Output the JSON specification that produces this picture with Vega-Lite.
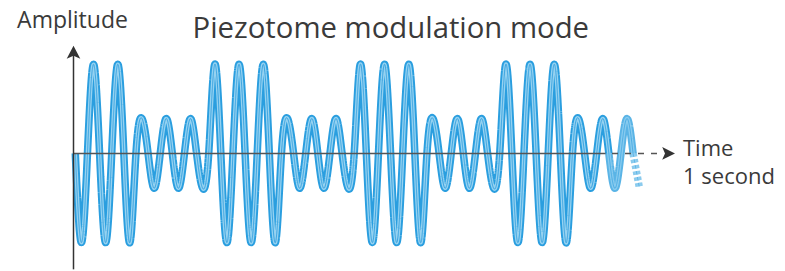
{
  "$schema": "https://vega.github.io/schema/vega-lite/v6.json",
  "width": 785,
  "height": 271,
  "autosize": {"type": "fit", "contains": "padding"},
  "padding": 0,
  "background": "#ffffff",
  "config": {"view": {"stroke": null}},
  "datasets": {
    "wave": [
      {"t": 1.8, "a": 0, "part": "solid"},
      {"t": 7.9, "a": -1, "part": "solid"},
      {"t": 13.96, "a": 0, "part": "solid"},
      {"t": 20.03, "a": 1, "part": "solid"},
      {"t": 26.09, "a": 0, "part": "solid"},
      {"t": 32.15, "a": -1, "part": "solid"},
      {"t": 38.21, "a": 0, "part": "solid"},
      {"t": 44.28, "a": 1, "part": "solid"},
      {"t": 50.34, "a": 0, "part": "solid"},
      {"t": 56.4, "a": -1, "part": "solid"},
      {"t": 62.46, "a": 0, "part": "solid"},
      {"t": 68.53, "a": 0.391, "part": "solid"},
      {"t": 74.59, "a": 0, "part": "solid"},
      {"t": 80.65, "a": -0.391, "part": "solid"},
      {"t": 86.71, "a": 0, "part": "solid"},
      {"t": 92.78, "a": 0.391, "part": "solid"},
      {"t": 98.84, "a": 0, "part": "solid"},
      {"t": 104.9, "a": -0.391, "part": "solid"},
      {"t": 110.96, "a": 0, "part": "solid"},
      {"t": 117.03, "a": 0.391, "part": "solid"},
      {"t": 123.09, "a": 0, "part": "solid"},
      {"t": 129.15, "a": -0.391, "part": "solid"},
      {"t": 135.21, "a": 0, "part": "solid"},
      {"t": 141.28, "a": 1, "part": "solid"},
      {"t": 147.34, "a": 0, "part": "solid"},
      {"t": 153.4, "a": -1, "part": "solid"},
      {"t": 159.46, "a": 0, "part": "solid"},
      {"t": 165.53, "a": 1, "part": "solid"},
      {"t": 171.59, "a": 0, "part": "solid"},
      {"t": 177.65, "a": -1, "part": "solid"},
      {"t": 183.71, "a": 0, "part": "solid"},
      {"t": 189.78, "a": 1, "part": "solid"},
      {"t": 195.84, "a": 0, "part": "solid"},
      {"t": 201.9, "a": -1, "part": "solid"},
      {"t": 207.96, "a": 0, "part": "solid"},
      {"t": 214.03, "a": 0.391, "part": "solid"},
      {"t": 220.09, "a": 0, "part": "solid"},
      {"t": 226.15, "a": -0.391, "part": "solid"},
      {"t": 232.21, "a": 0, "part": "solid"},
      {"t": 238.28, "a": 0.391, "part": "solid"},
      {"t": 244.34, "a": 0, "part": "solid"},
      {"t": 250.4, "a": -0.391, "part": "solid"},
      {"t": 256.46, "a": 0, "part": "solid"},
      {"t": 262.53, "a": 0.391, "part": "solid"},
      {"t": 268.59, "a": 0, "part": "solid"},
      {"t": 274.65, "a": -0.391, "part": "solid"},
      {"t": 280.71, "a": 0, "part": "solid"},
      {"t": 286.78, "a": 1, "part": "solid"},
      {"t": 292.84, "a": 0, "part": "solid"},
      {"t": 298.9, "a": -1, "part": "solid"},
      {"t": 304.96, "a": 0, "part": "solid"},
      {"t": 311.03, "a": 1, "part": "solid"},
      {"t": 317.09, "a": 0, "part": "solid"},
      {"t": 323.15, "a": -1, "part": "solid"},
      {"t": 329.21, "a": 0, "part": "solid"},
      {"t": 335.28, "a": 1, "part": "solid"},
      {"t": 341.34, "a": 0, "part": "solid"},
      {"t": 347.4, "a": -1, "part": "solid"},
      {"t": 353.46, "a": 0, "part": "solid"},
      {"t": 359.53, "a": 0.391, "part": "solid"},
      {"t": 365.59, "a": 0, "part": "solid"},
      {"t": 371.65, "a": -0.391, "part": "solid"},
      {"t": 377.71, "a": 0, "part": "solid"},
      {"t": 383.78, "a": 0.391, "part": "solid"},
      {"t": 389.84, "a": 0, "part": "solid"},
      {"t": 395.9, "a": -0.391, "part": "solid"},
      {"t": 401.96, "a": 0, "part": "solid"},
      {"t": 408.03, "a": 0.391, "part": "solid"},
      {"t": 414.09, "a": 0, "part": "solid"},
      {"t": 420.15, "a": -0.391, "part": "solid"},
      {"t": 426.21, "a": 0, "part": "solid"},
      {"t": 432.28, "a": 1, "part": "solid"},
      {"t": 438.34, "a": 0, "part": "solid"},
      {"t": 444.4, "a": -1, "part": "solid"},
      {"t": 450.46, "a": 0, "part": "solid"},
      {"t": 456.53, "a": 1, "part": "solid"},
      {"t": 462.59, "a": 0, "part": "solid"},
      {"t": 468.65, "a": -1, "part": "solid"},
      {"t": 474.71, "a": 0, "part": "solid"},
      {"t": 480.78, "a": 1, "part": "solid"},
      {"t": 486.84, "a": 0, "part": "solid"},
      {"t": 492.9, "a": -1, "part": "solid"},
      {"t": 498.96, "a": 0, "part": "solid"},
      {"t": 505.03, "a": 0.391, "part": "solid"},
      {"t": 511.09, "a": 0, "part": "solid"},
      {"t": 517.15, "a": -0.391, "part": "solid"},
      {"t": 523.21, "a": 0, "part": "solid"},
      {"t": 529.28, "a": 0.391, "part": "solid"},
      {"t": 535.34, "a": 0, "part": "solid"},
      {"t": 535.34, "a": 0, "part": "fade"},
      {"t": 541.4, "a": -0.391, "part": "fade"},
      {"t": 547.46, "a": 0, "part": "fade"},
      {"t": 553.53, "a": 0.391, "part": "fade"},
      {"t": 559.59, "a": 0, "part": "fade"},
      {"t": 559.59, "a": 0, "part": "dots"},
      {"t": 565.65, "a": -0.37, "part": "dots"}
    ]
  },
  "layer": [
    {
      "data": {"name": "wave"},
      "mark": {"type": "line", "interpolate": "natural", "color": "#2a9edf", "strokeWidth": 7.5, "strokeCap": "butt", "strokeJoin": "round"},
      "encoding": {
        "x": {"field": "t", "type": "quantitative", "scale": {"domain": [-73.5, 711.5], "nice": false, "zero": false}, "axis": null},
        "y": {"field": "a", "type": "quantitative", "scale": {"domain": [-1.3073, 1.7207], "nice": false, "zero": false}, "axis": null},
        "order": {"field": "t", "type": "quantitative"},
        "opacity": {"field": "part", "type": "nominal", "scale": {"domain": ["solid", "fade", "dots"], "range": [1, 0.55, 0.42]}, "legend": null},
        "strokeDash": {"field": "part", "type": "nominal", "scale": {"domain": ["solid", "fade", "dots"], "range": [[1, 0], [1, 0], [3.5, 2.5]]}, "legend": null}
      }
    },
    {
      "data": {"name": "wave"},
      "mark": {"type": "line", "interpolate": "natural", "color": "#95d2f1", "strokeWidth": 3.6, "strokeCap": "butt", "strokeJoin": "round"},
      "encoding": {
        "x": {"field": "t", "type": "quantitative"},
        "y": {"field": "a", "type": "quantitative"},
        "order": {"field": "t", "type": "quantitative"},
        "opacity": {"field": "part", "type": "nominal", "legend": null},
        "strokeDash": {"field": "part", "type": "nominal", "legend": null}
      }
    },
    {
      "data": {"name": "wave"},
      "mark": {"type": "line", "interpolate": "natural", "color": "#3aa3e0", "strokeWidth": 1, "strokeCap": "butt", "strokeJoin": "round"},
      "encoding": {
        "x": {"field": "t", "type": "quantitative"},
        "y": {"field": "a", "type": "quantitative"},
        "order": {"field": "t", "type": "quantitative"},
        "opacity": {"field": "part", "type": "nominal", "legend": null},
        "strokeDash": {"field": "part", "type": "nominal", "legend": null}
      }
    },
    {
      "data": {"values": [{}]},
      "mark": {"type": "rule", "color": "#555555", "strokeWidth": 1.5},
      "encoding": {
        "x": {"datum": 0, "type": "quantitative"},
        "x2": {"datum": 532},
        "y": {"datum": 0, "type": "quantitative"}
      }
    },
    {
      "data": {"values": [{}]},
      "mark": {"type": "rule", "color": "#555555", "strokeWidth": 1.5, "strokeDash": [6, 7]},
      "encoding": {
        "x": {"datum": 538.5, "type": "quantitative"},
        "x2": {"datum": 590},
        "y": {"datum": 0, "type": "quantitative"}
      }
    },
    {
      "data": {"values": [{}]},
      "mark": {"type": "point", "filled": true, "color": "#333333", "opacity": 1, "size": 256, "shape": "M1,0 L-0.6,0.8 L-0.25,0 L-0.6,-0.8 Z", "strokeWidth": 0},
      "encoding": {
        "x": {"datum": 593.5, "type": "quantitative"},
        "y": {"datum": 0, "type": "quantitative"}
      }
    },
    {
      "data": {"values": [{}]},
      "mark": {"type": "rule", "color": "#333333", "strokeWidth": 1.5},
      "encoding": {
        "x": {"datum": 0, "type": "quantitative"},
        "y": {"datum": -1.3, "type": "quantitative"},
        "y2": {"datum": 1.106}
      }
    },
    {
      "data": {"values": [{}]},
      "mark": {"type": "point", "filled": true, "color": "#333333", "opacity": 1, "size": 256, "shape": "M0,-1 L0.85,0.6 L0,0.25 L-0.85,0.6 Z", "strokeWidth": 0},
      "encoding": {
        "x": {"datum": 0, "type": "quantitative"},
        "y": {"datum": 1.117, "type": "quantitative"}
      }
    },
    {
      "data": {"values": [{}]},
      "mark": {"type": "text", "font": "Open Sans", "fontSize": 29.3, "align": "center", "baseline": "alphabetic", "color": "#3a3a3a"},
      "encoding": {
        "x": {"datum": 317.3, "type": "quantitative"},
        "y": {"datum": 1.293, "type": "quantitative"},
        "text": {"value": "Piezotome modulation mode"}
      }
    },
    {
      "data": {"values": [{}]},
      "mark": {"type": "text", "font": "Open Sans", "fontSize": 23, "align": "center", "baseline": "alphabetic", "color": "#3a3a3a"},
      "encoding": {
        "x": {"datum": -1, "type": "quantitative"},
        "y": {"datum": 1.405, "type": "quantitative"},
        "text": {"value": "Amplitude"}
      }
    },
    {
      "data": {"values": [{}]},
      "mark": {"type": "text", "font": "Open Sans", "fontSize": 22, "align": "left", "baseline": "alphabetic", "color": "#3a3a3a"},
      "encoding": {
        "x": {"datum": 609.5, "type": "quantitative"},
        "y": {"datum": -0.028, "type": "quantitative"},
        "text": {"value": "Time"}
      }
    },
    {
      "data": {"values": [{}]},
      "mark": {"type": "text", "font": "Open Sans", "fontSize": 22, "align": "left", "baseline": "alphabetic", "color": "#3a3a3a"},
      "encoding": {
        "x": {"datum": 609.5, "type": "quantitative"},
        "y": {"datum": -0.34, "type": "quantitative"},
        "text": {"value": "1 second"}
      }
    }
  ]
}
